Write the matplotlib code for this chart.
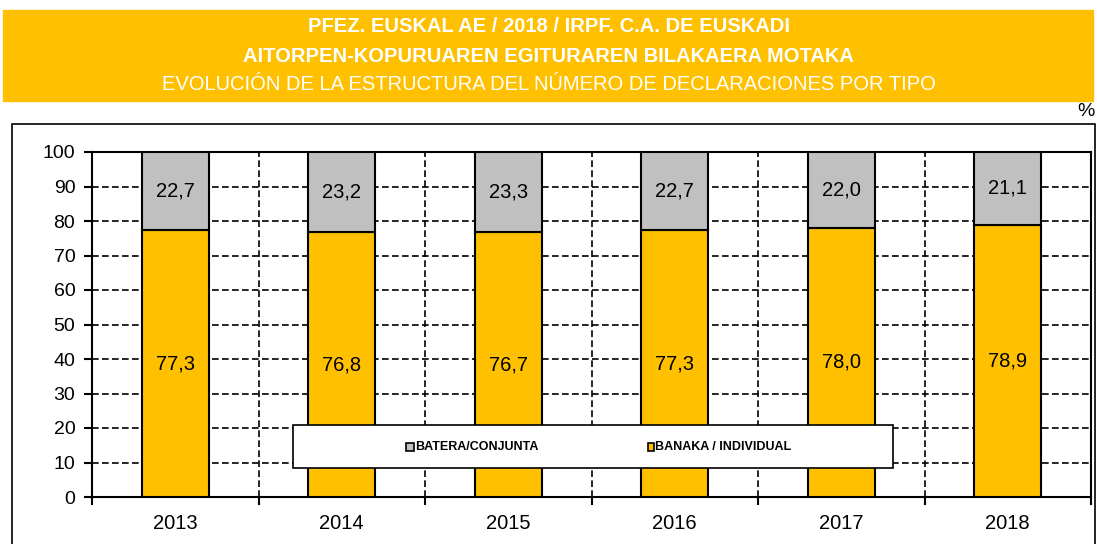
import matplotlib.pyplot as plt
import matplotlib.patches as mpatches
import numpy as np

years = ["2013", "2014", "2015", "2016", "2017", "2018"]
banaka = [77.3, 76.8, 76.7, 77.3, 78.0, 78.9]
batera = [22.7, 23.2, 23.3, 22.7, 22.0, 21.1]
legend_labels = ["BATERA/CONJUNTA", "BANAKA / INDIVIDUAL"]
titles = ["PFEZ. EUSKAL AE / 2018 / IRPF. C.A. DE EUSKADI",
          "AITORPEN-KOPURUAREN EGITURAREN BILAKAERA MOTAKA",
          "EVOLUCIÓN DE LA ESTRUCTURA DEL NÚMERO DE DECLARACIONES POR TIPO"]

yellow = "#FFC000"
grey = "#C0C0C0"
W, H = 1097, 544

plt.rcParams['font.family'] = ['Liberation Sans', 'DejaVu Sans']

fig = plt.figure(figsize=(W / 100, H / 100), dpi=100)

# title band
fig.patches.append(mpatches.Rectangle((3 / W, 1 - 101 / H), 1090 / W, 91 / H,
                                      transform=fig.transFigure, color=yellow, zorder=0))
narrow = ['Liberation Sans Narrow', 'Liberation Sans', 'DejaVu Sans']
fig.text(0.5, 1 - 27 / H, titles[0], color="white", fontsize=14.5, fontweight="bold",
         ha="center", va="center", family=narrow)
fig.text(0.5, 1 - 57 / H, titles[1], color="white", fontsize=14.5, fontweight="bold",
         ha="center", va="center", family=narrow)
fig.text(0.5, 1 - 84 / H, titles[2], color="white", fontsize=14.5,
         ha="center", va="center", family=narrow)
fig.text(1095 / W, 1 - 112 / H, "%", fontsize=14, ha="right", va="center")

# chart frame
fig.patches.append(mpatches.Rectangle((12 / W, -0.01), 1083 / W, 1 - 124 / H + 0.01,
                                      transform=fig.transFigure, fill=False,
                                      edgecolor="black", lw=1.2, zorder=0))

ax = fig.add_axes([92 / W, 1 - 497 / H, 999 / W, 345 / H])
x = np.arange(len(years))
ax.bar(x, banaka, width=0.4, color=yellow, edgecolor="black", lw=1.5, zorder=3)
ax.bar(x, batera, width=0.4, bottom=banaka, color=grey, edgecolor="black", lw=1.5, zorder=3)
for i in range(len(years)):
    ax.text(x[i], banaka[i] / 2, f"{banaka[i]:.1f}".replace(".", ","),
            ha="center", va="center", fontsize=14.5, zorder=4)
    ax.text(x[i], banaka[i] + batera[i] / 2, f"{batera[i]:.1f}".replace(".", ","),
            ha="center", va="center", fontsize=14.5, zorder=4)

ax.set_xlim(-0.5, len(years) - 0.5)
ax.set_ylim(0, 100)
ax.set_yticks(np.arange(0, 101, 10))
ax.set_xticks(x)
ax.set_xticklabels(years)
ax.set_xticks(np.arange(-0.5, len(years), 1), minor=True)
ax.tick_params(axis="y", labelsize=14, length=6, width=1.5, direction="out", pad=6)
ax.tick_params(axis="x", which="major", labelsize=14.5, length=0, pad=12)
ax.tick_params(axis="x", which="minor", length=6, width=1.5, direction="out")
for yv in range(10, 100, 10):
    ax.axhline(yv, color="black", lw=1.2, ls=(0, (4, 2)), zorder=1)
for xv in np.arange(0.5, len(years) - 1, 1):
    ax.axvline(xv, color="black", lw=1.2, ls=(0, (4, 2)), zorder=1)
for s in ax.spines.values():
    s.set_linewidth(1.5)

# legend, drawn by hand to match the original spacing
fig.patches.append(mpatches.Rectangle((293 / W, 1 - 468 / H), 600 / W, 43 / H,
                                      transform=fig.transFigure, facecolor="white",
                                      edgecolor="black", lw=1.2, zorder=5))
leg_colors = [grey, yellow]
leg_x = [406, 648]
leg_w = [8, 6]
for lab, col, lx, lw_ in zip(legend_labels, leg_colors, leg_x, leg_w):
    fig.patches.append(mpatches.Rectangle((lx / W, 1 - 451 / H), lw_ / W, 8 / H,
                                          transform=fig.transFigure, facecolor=col,
                                          edgecolor="black", lw=1.2, zorder=6))
    fig.text((lx + lw_ + 1) / W, 1 - 447 / H, lab, fontsize=9, fontweight="bold",
             ha="left", va="center", zorder=6)

fig.savefig("out.png", dpi=100)
